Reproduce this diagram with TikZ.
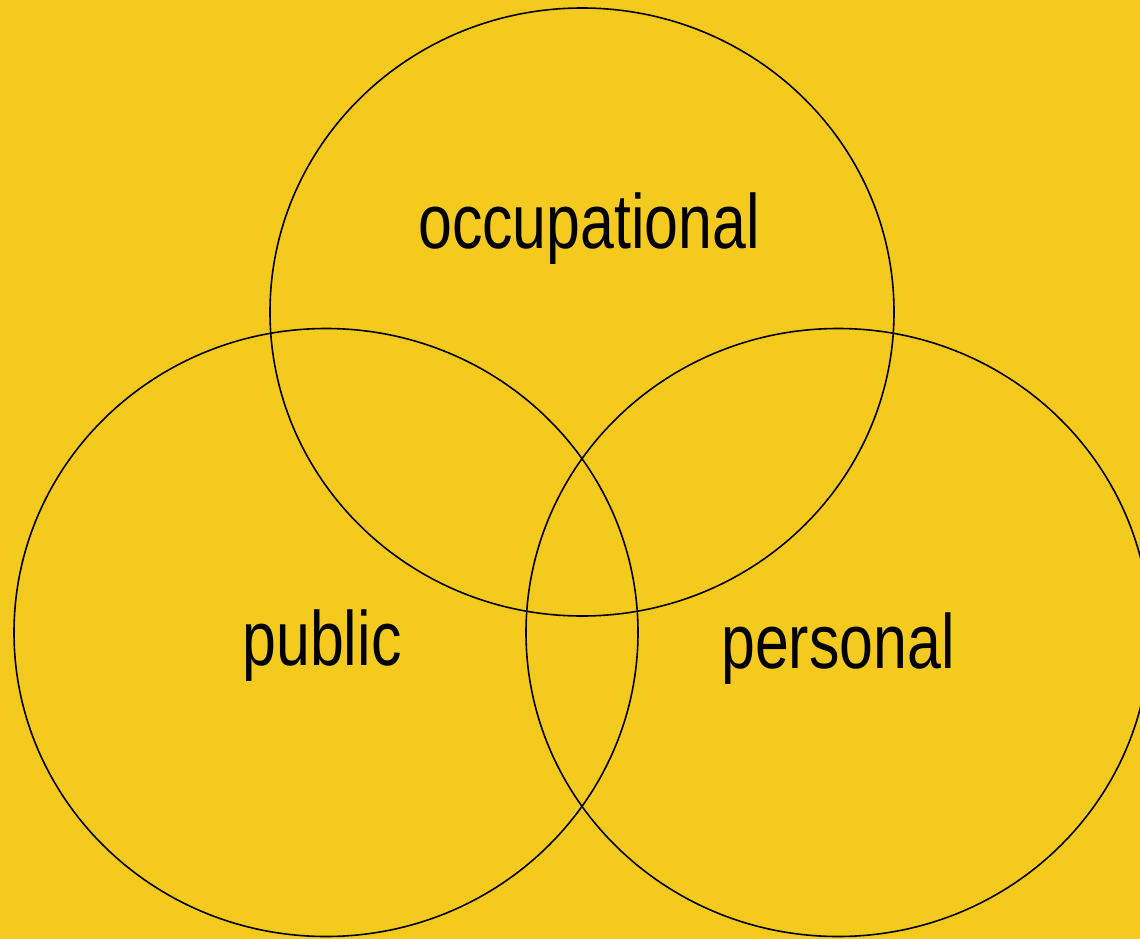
\documentclass[tikz,border=0pt]{standalone}
\usepackage{fontspec}
\setmainfont[FakeStretch=0.79]{Liberation Sans}
\definecolor{bgyellow}{HTML}{F4CA1F}
\begin{document}
\begin{tikzpicture}[x=1pt,y=-1pt,
  setring/.style={draw=black,line width=1.6pt},
  setlabel/.style={anchor=base,inner sep=0pt,font=\fontsize{77}{80}\selectfont}]
\fill[bgyellow] (0,0) rectangle (1140,939);
\useasboundingbox (0,0) rectangle (1140,939);
\begin{scope}
\clip (0,0) rectangle (1140,939);
\draw[setring] (582,312) ellipse [x radius=312, y radius=304];
\draw[setring] (326,632.5) ellipse [x radius=312, y radius=304];
\draw[setring] (838,632.5) ellipse [x radius=312, y radius=304];
\end{scope}
\node[setlabel] (occ) at (589,248) {occupational};
\node[setlabel] (pub) at (322,665) {public};
\node[setlabel] (per) at (838,668) {personal};
\end{tikzpicture}
\end{document}
